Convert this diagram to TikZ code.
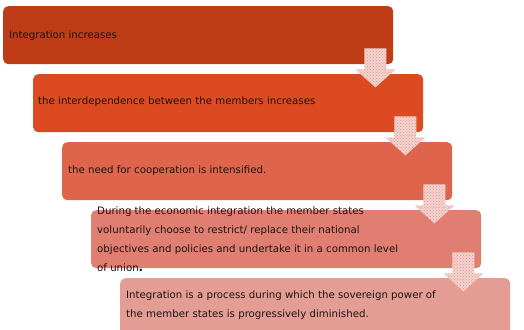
\documentclass[tikz,border=0pt]{standalone}
\usepackage{fontspec}
\setmainfont{DejaVu Sans}
\usetikzlibrary{patterns,calc}
\definecolor{cA}{HTML}{BE3D16}
\definecolor{cB}{HTML}{DB4A21}
\definecolor{cC}{HTML}{DE654B}
\definecolor{cD}{HTML}{E07F71}
\definecolor{cE}{HTML}{E49D95}
\definecolor{arrfill}{HTML}{F2D2CD}
\definecolor{arrdots}{HTML}{E0998F}
\definecolor{txtc}{HTML}{1C1410}
\tikzset{
  box/.style={draw=none, rounded corners=5pt, minimum width=390pt, minimum height=58pt, anchor=north west, inner sep=0pt},
  txt/.style={anchor=west, inner sep=0pt, text=txtc, font=\fontsize{10.2}{19}\selectfont, align=left},
  blockarr/.style={fill=arrfill, draw=none},
  blockdots/.style={pattern=crosshatch dots, pattern color=arrdots, draw=none}
}
\newcommand\downarrowblock[1]{%
  \begin{scope}[shift={([xshift=-18pt]#1.south east)}]
    \path[blockarr] (-11,-16) -- (11,-16) -- (11,5) -- (20,5) -- (0,23) -- (-20,5) -- (-11,5) -- cycle;
    \path[blockdots] (-11,-16) -- (11,-16) -- (11,5) -- (20,5) -- (0,23) -- (-20,5) -- (-11,5) -- cycle;
  \end{scope}}
\begin{document}
\begin{tikzpicture}[x=1pt,y=-1pt]
\useasboundingbox (0,0) rectangle (524,329);
\node[box, fill=cA] (b1) at (3,6) {};
\node[box, fill=cB] (b2) at (33,74) {};
\node[box, fill=cC] (b3) at (62,142) {};
\node[box, fill=cD] (b4) at (91,210) {};
\node[box, fill=cE] (b5) at (120,278) {};
\node[txt] (t1) at ([xshift=6pt,yshift=0pt]b1.west) {Integration increases};
\node[txt] (t2) at ([xshift=5pt,yshift=2pt]b2.west) {the interdependence between the members increases};
\node[txt] (t3) at ([xshift=6pt,yshift=1pt]b3.west) {the need for cooperation is intensified.};
\node[txt] (t4) at ([xshift=6pt,yshift=0pt]b4.west) {During the economic integration the member states\\voluntarily choose to restrict/ replace their national\\objectives and policies and undertake it in a common level\\of union{\bfseries\large.}};
\node[txt] (t5) at ([xshift=6pt,yshift=2pt]b5.west) {Integration is a process during which the sovereign power of\\the member states is progressively diminished.};
\downarrowblock{b1}
\downarrowblock{b2}
\downarrowblock{b3}
\downarrowblock{b4}
\end{tikzpicture}
\end{document}
